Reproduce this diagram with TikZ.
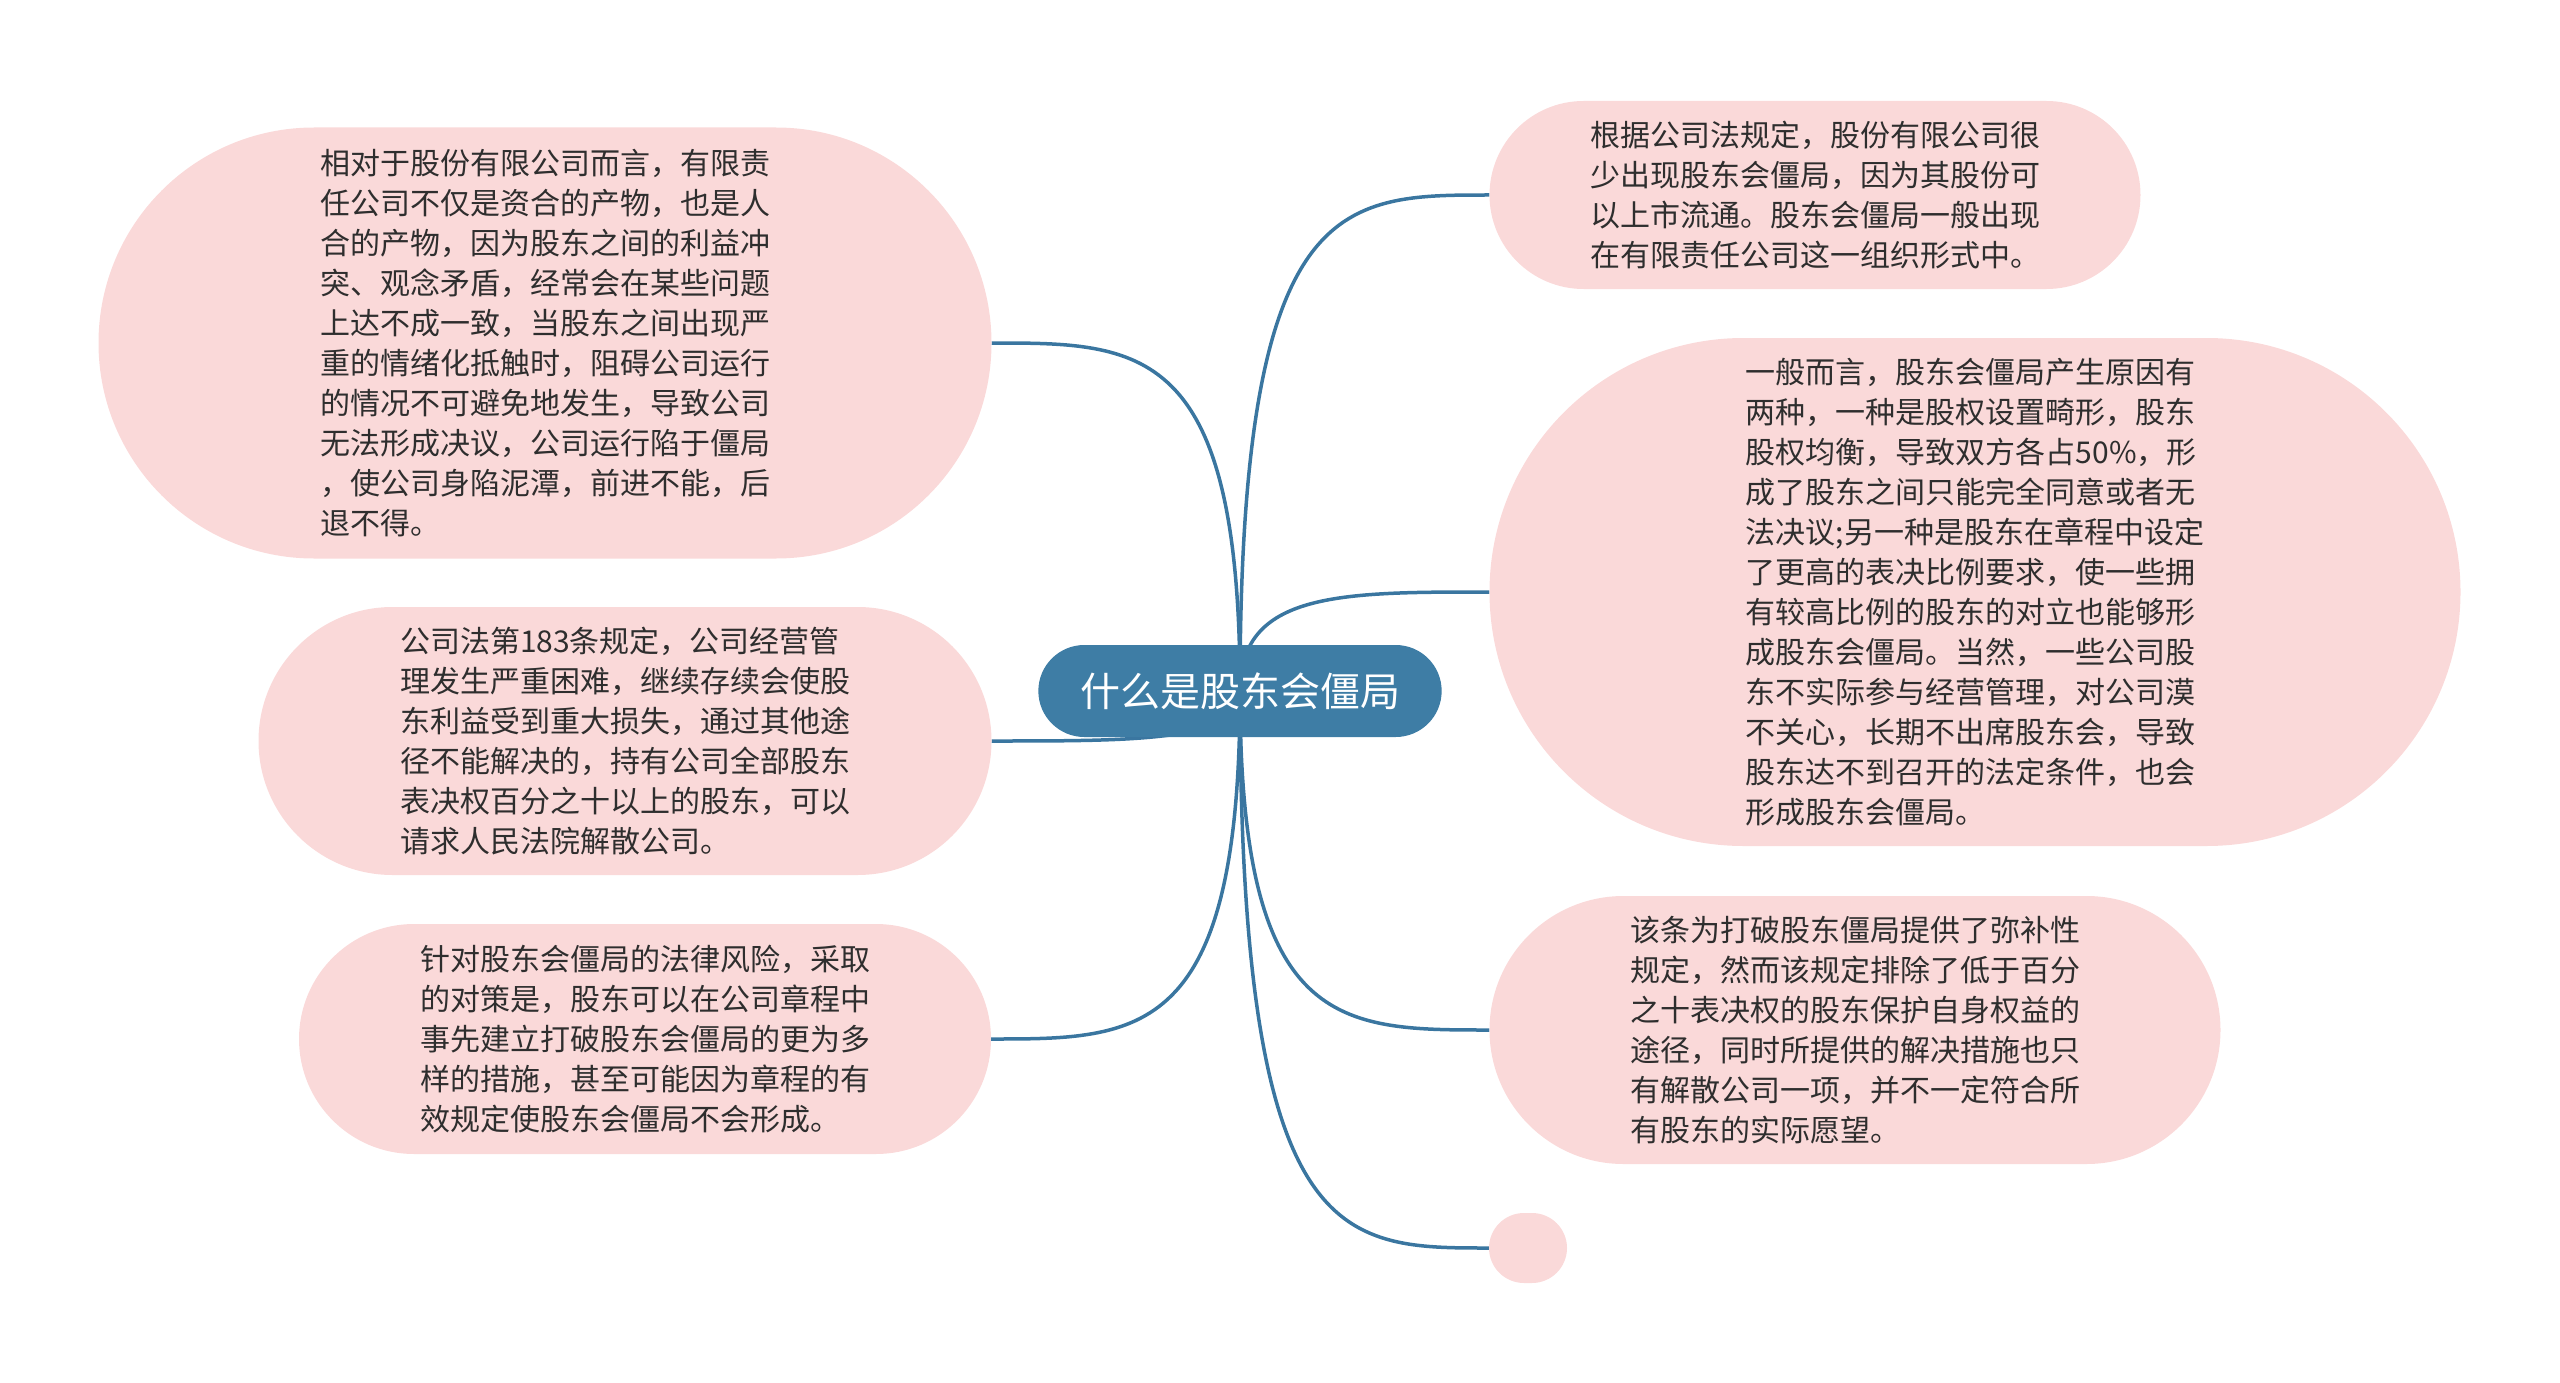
\documentclass[tikz,border=0pt]{standalone}
\usepackage{fontspec}
\setmainfont{Noto Sans CJK SC}
\usepackage{tikz}
\usetikzlibrary{shapes.misc, calc, backgrounds}
\definecolor{rootblue}{HTML}{3E7DA5}
\definecolor{linkblue}{HTML}{3A76A0}
\definecolor{leafpink}{HTML}{FAD9D9}
\definecolor{leaftext}{HTML}{2E2E2E}
\tikzset{
  leaf/.style={rounded rectangle, fill=leafpink, inner sep=0pt, align=left, text=leaftext, font=\fontsize{30}{40}\selectfont},
  link/.style={draw=linkblue, line width=3.5pt},
}

\begin{document}
\begin{tikzpicture}[x=1pt, y=-1pt]
\useasboundingbox (0,0) rectangle (2560,1383);
\node[rounded rectangle, fill=rootblue, text=white, font=\fontsize{40}{48}\selectfont, minimum width=410pt, minimum height=92pt] (root) at (1240,691) {什么是股东会僵局};
\node[leaf, minimum width=893pt, minimum height=431pt] (A) at (545,343) {相对于股份有限公司而言，有限责\\
任公司不仅是资合的产物，也是人\\
合的产物，因为股东之间的利益冲\\
突、观念矛盾，经常会在某些问题\\
上达不成一致，当股东之间出现严\\
重的情绪化抵触时，阻碍公司运行\\
的情况不可避免地发生，导致公司\\
无法形成决议，公司运行陷于僵局\\
，使公司身陷泥潭，前进不能，后\\
退不得。};
\node[leaf, minimum width=733pt, minimum height=268pt] (B) at (625,741) {公司法第183条规定，公司经营管\\
理发生严重困难，继续存续会使股\\
东利益受到重大损失，通过其他途\\
径不能解决的，持有公司全部股东\\
表决权百分之十以上的股东，可以\\
请求人民法院解散公司。};
\node[leaf, minimum width=692pt, minimum height=230pt] (C) at (645,1039) {针对股东会僵局的法律风险，采取\\
的对策是，股东可以在公司章程中\\
事先建立打破股东会僵局的更为多\\
样的措施，甚至可能因为章程的有\\
效规定使股东会僵局不会形成。};
\node[leaf, minimum width=651pt, minimum height=188pt] (D) at (1815,195) {根据公司法规定，股份有限公司很\\
少出现股东会僵局，因为其股份可\\
以上市流通。股东会僵局一般出现\\
在有限责任公司这一组织形式中。};
\node[leaf, minimum width=971pt, minimum height=508pt] (E) at (1975,592) {一般而言，股东会僵局产生原因有\\
两种，一种是股权设置畸形，股东\\
股权均衡，导致双方各占50\%，形\\
成了股东之间只能完全同意或者无\\
法决议;另一种是股东在章程中设定\\
了更高的表决比例要求，使一些拥\\
有较高比例的股东的对立也能够形\\
成股东会僵局。当然，一些公司股\\
东不实际参与经营管理，对公司漠\\
不关心，长期不出席股东会，导致\\
股东达不到召开的法定条件，也会\\
形成股东会僵局。};
\node[leaf, minimum width=731pt, minimum height=268pt] (F) at (1855,1030) {该条为打破股东僵局提供了弥补性\\
规定，然而该规定排除了低于百分\\
之十表决权的股东保护自身权益的\\
途径，同时所提供的解决措施也只\\
有解散公司一项，并不一定符合所\\
有股东的实际愿望。};
\node[leaf, minimum width=78pt, minimum height=70pt] (G) at (1528,1248) {};
\begin{pgfonlayer}{background}
\draw[link] (root.center) .. controls (root.center |- A.east) and ($(A.east)!0.6!(root.center |- A.east)$) .. (A.east);
\draw[link] (root.center) .. controls (root.center |- B.east) and ($(B.east)!0.6!(root.center |- B.east)$) .. (B.east);
\draw[link] (root.center) .. controls (root.center |- C.east) and ($(C.east)!0.6!(root.center |- C.east)$) .. (C.east);
\draw[link] (root.center) .. controls (root.center |- D.west) and ($(D.west)!0.6!(root.center |- D.west)$) .. (D.west);
\draw[link] (root.center) .. controls (root.center |- E.west) and ($(E.west)!0.6!(root.center |- E.west)$) .. (E.west);
\draw[link] (root.center) .. controls (root.center |- F.west) and ($(F.west)!0.6!(root.center |- F.west)$) .. (F.west);
\draw[link] (root.center) .. controls (root.center |- G.west) and ($(G.west)!0.6!(root.center |- G.west)$) .. (G.west);
\end{pgfonlayer}
\end{tikzpicture}
\end{document}
